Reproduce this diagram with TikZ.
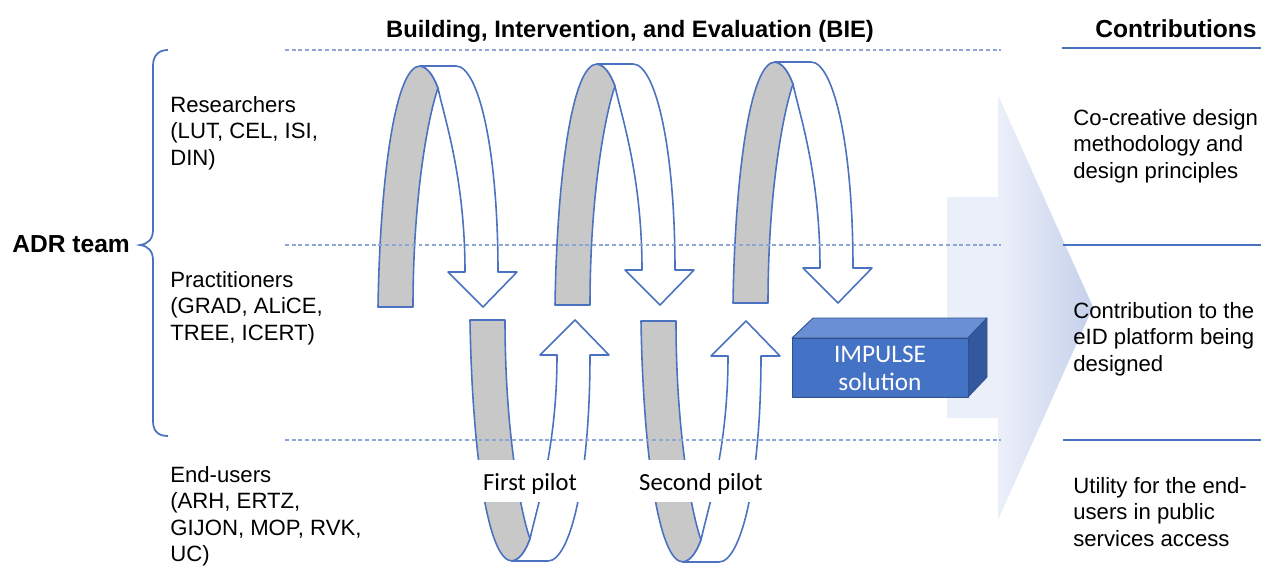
\documentclass[tikz,border=0pt]{standalone}
\usepackage{fontspec}
\setmainfont{Liberation Sans}
\newfontfamily\calibrifont{Carlito}
\definecolor{loopblue}{HTML}{4A72C0}
\definecolor{bandgray}{HTML}{C8C8C8}
\definecolor{guideblue}{HTML}{8FA5D5}
\definecolor{ruleblue}{HTML}{4A72C0}
\definecolor{boxfront}{HTML}{4472C4}
\definecolor{boxtop}{HTML}{6A8FD4}
\definecolor{boxside}{HTML}{34589E}
\definecolor{boxedge}{HTML}{2F528F}
\definecolor{arrowpale}{HTML}{EBEFF9}
\definecolor{arrowdeep}{HTML}{C5D0EB}
% pale over the shaft, deepening towards the tip of the head
\pgfdeclarehorizontalshading{bigarrowshade}{100bp}{color(0bp)=(arrowpale); color(25bp)=(arrowpale);
  color(43bp)=(arrowpale); color(75bp)=(arrowdeep); color(100bp)=(arrowdeep)}
\tikzset{
  loopedge/.style={draw=loopblue, line width=0.9pt, line join=round},
  guide/.style={draw=guideblue, line width=0.6pt, dash pattern=on 2.2pt off 1.6pt},
  rulerline/.style={draw=ruleblue, line width=0.9pt},
  bodytext/.style={font=\fontsize{12.6}{15.1}\selectfont, align=left, anchor=north west, inner sep=0pt},
  headtext/.style={font=\fontsize{13.5}{16}\selectfont\bfseries, anchor=base, inner sep=0pt},
  pilottext/.style={font=\calibrifont\fontsize{14}{16}\selectfont, fill=white, anchor=base,
    inner xsep=5.7pt, inner ysep=0pt, text height=17.1pt, text depth=6.8pt},
  % a ribbon folding over: grey back leg, white front leg ending in an arrow head
  bieloop/.pic={
    \path[loopedge, fill=bandgray]
      (0,0) .. controls (2,-127) and (17,-241) .. (42,-241)
      .. controls (50,-240) and (56,-230) .. (60,-219)
      .. controls (50,-190) and (35,-110) .. (35,0) -- cycle;
    \path[loopedge, fill=white]
      (42,-241) -- (78,-241) .. controls (100,-241) and (120,-160) .. (120,-35)
      -- (139,-35) -- (105,0) -- (70,-35) -- (87,-35)
      .. controls (87,-130) and (66,-190) .. (60,-219)
      .. controls (56,-230) and (50,-240) .. (42,-241) -- cycle;
  }
}
\begin{document}
\begin{tikzpicture}[x=0.02cm, y=-0.02cm]
\useasboundingbox (0,0) rectangle (1261,572);

% large pale arrow towards the contributions
\path[shading=bigarrowshade]
  (947,197) -- (998,197) -- (998,95) -- (1093,307) -- (998,520) -- (998,418) -- (947,418) -- cycle;

% upper loops (building) and lower loops (pilots)
\pic at (378,307) {bieloop};
\pic at (555,305) {bieloop};
\pic at (733,303) {bieloop};
\pic[yscale=-1] at (470,320) {bieloop};
\pic[yscale=-1] at (641,321) {bieloop};

% horizontal guides between the stakeholder rows
\coordinate (g1a) at (285,50);  \coordinate (g1b) at (1001,50);
\coordinate (g2a) at (285,245); \coordinate (g2b) at (1001,245);
\coordinate (g3a) at (285,440); \coordinate (g3b) at (1001,440);
\draw[guide] (g1a) -- (g1b);
\draw[guide] (g2a) -- (g2b);
\draw[guide] (g3a) -- (g3b);

% contribution separators
\coordinate (r0a) at (1062,48);  \coordinate (r0b) at (1261,48);
\coordinate (r1a) at (1063,245); \coordinate (r1b) at (1261,245);
\coordinate (r2a) at (1063,440); \coordinate (r2b) at (1261,440);
\draw[rulerline] (r0a) -- (r0b);
\draw[rulerline] (r1a) -- (r1b);
\draw[rulerline] (r2a) -- (r2b);

% pilot labels
\node[pilottext] (pilot1) at (530,490) {First pilot};
\node[pilottext] (pilot2) at (701,490) {Second pilot};

% IMPULSE solution block
\path[fill=boxtop, draw=boxedge, line width=0.5pt, line join=round]
  (792,338) -- (813,318) -- (987,318) -- (968,338) -- cycle;
\path[fill=boxside, draw=boxedge, line width=0.5pt, line join=round]
  (968,338) -- (987,318) -- (987,377) -- (968,397) -- cycle;
\path[fill=boxfront, draw=boxedge, line width=0.5pt, line join=round]
  (792,338) rectangle (968,397);
\node[font=\calibrifont\fontsize{14.4}{16}\selectfont, text=white, align=center, inner sep=0pt]
  (impulse) at (880,368) {IMPULSE\\solution};

% headings
\node[headtext] (bie) at (630,37) {Building, Intervention, and Evaluation (BIE)};
\node[headtext, font=\fontsize{14}{16}\selectfont\bfseries] (contrib) at (1176,37) {Contributions};

% ADR team brace
\draw[loopblue, line width=1pt]
  (168,50) .. controls (158,50) and (153,56) .. (153,66) -- (153,230)
  .. controls (153,239) and (148,244) .. (140,245)
  .. controls (148,246) and (153,251) .. (153,260) -- (153,421)
  .. controls (153,431) and (158,436) .. (168,436);
\node[font=\fontsize{14}{16}\selectfont\bfseries, anchor=base west, inner sep=0pt] (adr) at (12,252) {ADR team};

% stakeholder rows
\node[bodytext] (res) at (170,96) {Researchers\\(LUT, CEL, ISI,\\DIN)};
\node[bodytext] (prac) at (170,271) {Practitioners\\(GRAD, ALiCE,\\TREE, ICERT)};
\node[bodytext] (endu) at (170,466) {End-users\\(ARH, ERTZ,\\GIJON, MOP, RVK,\\UC)};

% contributions
\node[bodytext] (c1) at (1073,109) {Co-creative design\\methodology and\\design principles};
\node[bodytext] (c2) at (1073,302) {Contribution to the\\eID platform being\\designed};
\node[bodytext] (c3) at (1073,477) {Utility for the end-\\users in public\\services access};
\end{tikzpicture}
\end{document}
